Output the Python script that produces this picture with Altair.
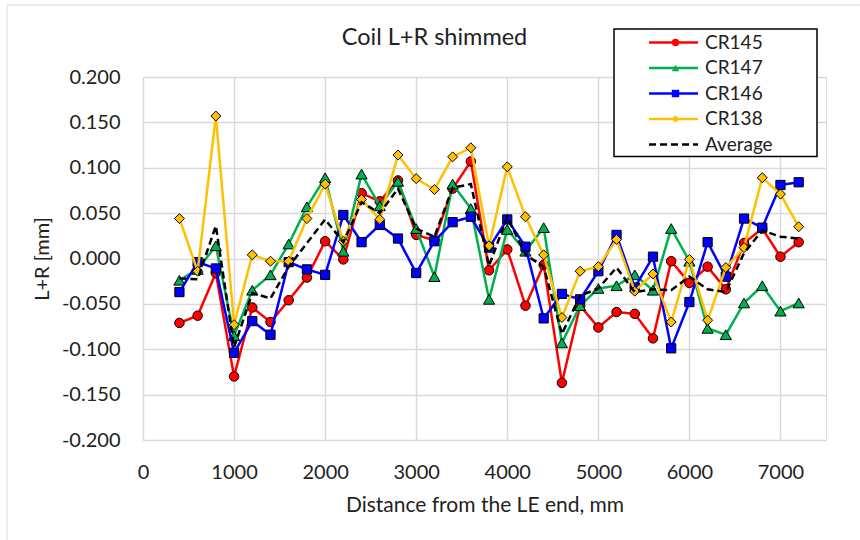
import altair as alt
import pandas as pd

# ---- data ----
distance = [400, 600, 800, 1000, 1200, 1400, 1600, 1800, 2000, 2200,
            2400, 2600, 2800, 3000, 3200, 3400, 3600, 3800, 4000, 4200,
            4400, 4600, 4800, 5000, 5200, 5400, 5600, 5800, 6000, 6200,
            6400, 6600, 6800, 7000, 7200]

cr145 = [-0.071, -0.063, -0.016, -0.130, -0.054, -0.070, -0.046, -0.021, 0.019, -0.001,
         0.072, 0.063, 0.086, 0.026, 0.020, 0.077, 0.107, -0.013, 0.010, -0.052,
         -0.007, -0.137, -0.052, -0.076, -0.059, -0.061, -0.088, -0.003, -0.027, -0.009,
         -0.034, 0.017, 0.033, 0.002, 0.018]

cr147 = [-0.024, -0.012, 0.014, -0.085, -0.035, -0.018, 0.016, 0.057, 0.089, 0.008,
         0.093, 0.058, 0.085, 0.033, -0.020, 0.082, 0.055, -0.045, 0.032, 0.008,
         0.034, -0.093, -0.052, -0.033, -0.030, -0.018, -0.035, 0.033, -0.003, -0.077,
         -0.084, -0.049, -0.030, -0.058, -0.049]

cr146 = [-0.037, -0.004, -0.011, -0.104, -0.069, -0.084, -0.004, -0.012, -0.018, 0.048,
         0.018, 0.037, 0.022, -0.016, 0.019, 0.040, 0.046, 0.012, 0.043, 0.013,
         -0.066, -0.039, -0.045, -0.014, 0.026, -0.032, 0.002, -0.099, -0.048, 0.018,
         -0.020, 0.044, 0.034, 0.081, 0.084]

cr138 = [0.044, -0.014, 0.157, -0.073, 0.004, -0.003, -0.003, 0.044, 0.082, 0.019,
         0.065, 0.043, 0.114, 0.088, 0.076, 0.112, 0.122, 0.014, 0.101, 0.046,
         0.004, -0.065, -0.014, -0.009, 0.021, -0.036, -0.017, -0.070, -0.001, -0.068,
         -0.010, 0.012, 0.089, 0.071, 0.035]

average = [-0.022, -0.023, 0.036, -0.098, -0.038, -0.044, -0.009, 0.017, 0.043, 0.018,
           0.062, 0.050, 0.077, 0.033, 0.024, 0.078, 0.082, -0.008, 0.046, 0.004,
           -0.009, -0.083, -0.041, -0.033, -0.010, -0.037, -0.034, -0.035, -0.020, -0.034,
           -0.037, 0.006, 0.031, 0.024, 0.022]

series_names = ["CR145", "CR147", "CR146", "CR138", "Average"]
series_values = [cr145, cr147, cr146, cr138, average]
line_colors = ["#ff0000", "#00b050", "#0000ff", "#ffc000", "#000000"]
marker_shapes = ["circle", "triangle-up", "square", "diamond"]
marker_sizes = [90, 125, 85, 100]
x_ticks = [0, 1000, 2000, 3000, 4000, 5000, 6000, 7000]
y_ticks = [-0.2, -0.15, -0.1, -0.05, 0.0, 0.05, 0.1, 0.15, 0.2]

rows = []
for name, vals in zip(series_names, series_values):
    for d, v in zip(distance, vals):
        rows.append({"x": d, "value": v, "series": name})
df = pd.DataFrame(rows)

FONT = "Lato"
TXT = "#222222"

x_enc = alt.X("x:Q",
              scale=alt.Scale(domain=[0, 7500], nice=False, zero=False),
              axis=alt.Axis(values=x_ticks, format="d", title="Distance from the LE end, mm",
                            titleFontSize=21, titleFont=FONT, titleFontWeight="normal",
                            titleColor=TXT, titleBaseline="alphabetic", titleY=71,
                            labelFontSize=20, labelFont=FONT, labelColor=TXT,
                            labelPadding=22, labelBaseline="top", labelFlush=False,
                            grid=True, gridColor="#d9d9d9", gridWidth=1.5,
                            domain=False, ticks=False, tickSize=0))
y_enc = alt.Y("value:Q",
              scale=alt.Scale(domain=[-0.2, 0.2], nice=False, zero=False),
              axis=alt.Axis(values=y_ticks, title="L+R [mm]",
                            labelExpr="replace(format(datum.value, '.3f'), '\u2212', '-')",
                            titleFontSize=20, titleFont=FONT, titleFontWeight="normal",
                            titleColor=TXT, titleX=-95, titleY=181.5, titleAngle=270,
                            titleBaseline="alphabetic", titleAlign="center",
                            labelFontSize=20, labelFont=FONT, labelColor=TXT, labelFlush=False,
                            labelPadding=23, grid=True, gridColor="#d9d9d9", gridWidth=1.5,
                            domain=False, ticks=False, tickSize=0))

# line legend: custom wide stroke symbol (path scaled by sqrt(size)/2)
line_legend = alt.Legend(orient="none", legendX=521, legendY=-44, title=None,
                         symbolType="M-5,0H5", symbolSize=96, symbolStrokeWidth=2.5,
                         symbolFillColor="transparent",
                         labelFontSize=19, labelFont=FONT, labelColor=TXT, labelOffset=22,
                         rowPadding=5.5, padding=0, zindex=1)
marker_legend = alt.Legend(orient="none", legendX=523, legendY=-44, title=None,
                           symbolSize=55, symbolStrokeColor="black", symbolStrokeWidth=1,
                           labelFontSize=19, labelFont=FONT, labelOpacity=0, labelOffset=6,
                           rowPadding=5.5, padding=0, zindex=2)

color_scale = alt.Scale(domain=series_names, range=line_colors)
dash_scale = alt.Scale(domain=series_names, range=[[1, 0], [1, 0], [1, 0], [1, 0], [7, 4]])
fill_scale = alt.Scale(domain=series_names[:4], range=line_colors[:4])
shape_scale = alt.Scale(domain=series_names[:4], range=marker_shapes)

base = alt.Chart(df)

# faint chart-area frame and legend frame
one_row = pd.DataFrame({"a": [0]})
chart_frame = alt.Chart(one_row).mark_rect(
    fill="transparent", stroke="#d9d9d9", strokeWidth=1
).encode(x=alt.value(-136), x2=alt.value(740), y=alt.value(-72), y2=alt.value(480))
legend_box = alt.Chart(one_row).mark_rect(
    fill="white", stroke="black", strokeWidth=1.5
).encode(x=alt.value(471), x2=alt.value(674), y=alt.value(-48), y2=alt.value(79.5))

layers = [chart_frame]
for i, name in enumerate(series_names):
    sub = base.transform_filter(alt.datum.series == name)
    line = sub.mark_line(strokeWidth=2.5).encode(
        x=x_enc, y=y_enc,
        color=alt.Color("series:N", scale=color_scale, legend=line_legend),
        strokeDash=alt.StrokeDash("series:N", scale=dash_scale, legend=line_legend),
        order="x:Q",
    )
    layers.append(line)
    if i < 4:
        pts = sub.transform_calculate(marker="datum.series").mark_point(
            filled=True, stroke="black", strokeWidth=1, size=marker_sizes[i], opacity=1
        ).encode(
            x=x_enc, y=y_enc,
            fill=alt.Fill("marker:N", scale=fill_scale, legend=marker_legend),
            shape=alt.Shape("marker:N", scale=shape_scale, legend=marker_legend),
        )
        layers.append(pts)

chart = alt.layer(*layers, legend_box).properties(
    width=683, height=363,
    title=alt.TitleParams("Coil L+R shimmed", fontSize=23.5, font=FONT, color=TXT,
                          fontWeight="normal", anchor="middle", dx=-50, dy=49),
    autosize=alt.AutoSizeParams(type="none"),
    padding={"left": 143, "top": 77, "right": 34, "bottom": 100},
).configure_view(stroke="black", strokeWidth=1.5).configure(background="white")

chart.save("out.html", embed_options={"renderer": "svg", "actions": False})
